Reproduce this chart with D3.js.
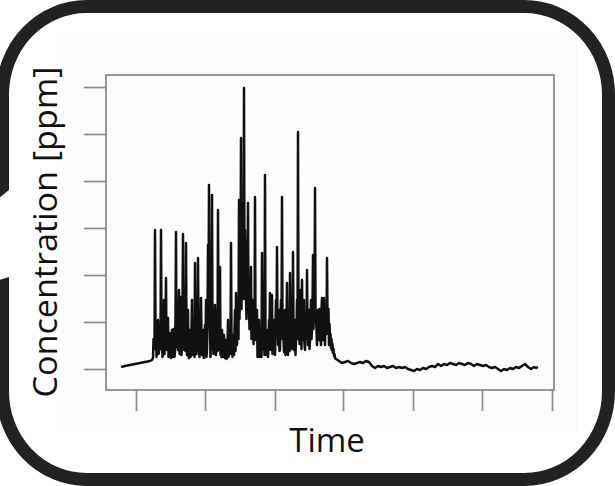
<!DOCTYPE html>
<html><head><meta charset="utf-8">
<script src="https://cdn.jsdelivr.net/npm/d3@7"></script>
<style>html,body{margin:0;padding:0;background:#fff;overflow:hidden}svg{display:block}</style>
</head><body><svg id="c" width="615" height="486"></svg>
<script>
// time (arbitrary units) and concentration (arbitrary ppm units)
const time = [85,89,94,99,104,109,114,116,
117,118,119,120,121,122,123,124,125,126,127,128,129,130,131,132,133,134,135,136,
137,138,139,140,141,142,143,144,145,146,147,148,149,150,151,152,153,154,155,156,
157,158,159,160,161,162,163,164,165,166,167,168,169,170,171,172,173,174,175,176,
177,178,179,180,181,182,183,184,185,186,187,188,189,190,191,192,193,194,195,196,
197,198,199,200,201,202,203,204,205,206,207,208,209,210,211,212,213,214,215,216,
217,218,219,220,221,222,223,224,225,226,227,228,229,230,231,232,233,234,235,236,
237,238,239,240,241,242,243,244,245,246,247,248,249,250,251,252,253,254,255,256,
257,258,259,260,261,262,263,264,265,266,267,268,269,270,271,272,273,274,275,276,
277,278,279,280,281,282,283,284,285,286,287,288,289,290,291,292,293,294,295,296,
297,298,299,
300,303,306,309,312,315,318,321,324,327,330,333,336,339,342,345,348,351,354,357,
360,363,366,369,372,375,378,381,384,387,390,393,396,399,402,405,408,411,414,417,
420,423,426,429,432,435,438,441,444,447,450,453,456,459,462,465,468,471,474,477,
480,483,486,489,492,495,498,500,502];
const conc = [2,3,4,5,6,7,8,9,
11,24,139,39,19,49,17,44,139,29,14,69,24,91,19,51,13,34,11,39,
14,29,17,137,49,19,79,24,72,29,135,19,69,126,14,59,11,39,14,69,
19,49,106,24,59,111,19,49,71,14,39,11,44,69,19,124,184,39,29,174,
24,49,64,14,39,159,19,102,24,39,12,34,11,29,13,49,17,39,126,19,
34,14,59,76,24,69,169,109,231,129,89,281,139,69,109,166,59,79,102,39,
69,49,172,29,59,19,49,14,39,116,19,49,194,24,39,12,49,76,19,74,
29,49,14,69,122,24,59,19,69,172,39,17,59,29,86,14,49,96,24,69,
117,19,49,29,69,237,59,79,39,89,29,69,19,49,99,24,59,29,69,39,
114,69,181,49,24,59,29,49,24,71,29,71,24,49,111,39,24,29,21,19,
16,13,11,
10,8,6,7,8,6,5,6,7,6,8,7,3,1,3,2,3,1,2,3,
1,2,1,2,0,-1,-2,0,-1,1,0,2,3,2,5,3,5,4,6,5,
4,6,5,4,6,5,3,5,4,3,4,2,1,2,0,-2,0,-1,1,0,
2,1,3,5,2,0,2,1,2];
// intermediate readings inside the burst (half-step samples)
const time2 = [117.5,118.5,119.5,120.5,121.5,122.5,123.5,124.5,125.5,126.5,127.5,128.5,129.5,130.5,131.5,132.5,133.5,134.5,135.5,136.5,
137.5,138.5,139.5,140.5,141.5,142.5,143.5,144.5,145.5,146.5,147.5,148.5,149.5,150.5,151.5,152.5,153.5,154.5,155.5,156.5,
157.5,158.5,159.5,160.5,161.5,162.5,163.5,164.5,165.5,166.5,167.5,168.5,169.5,170.5,171.5,172.5,173.5,174.5,175.5,176.5,
177.5,178.5,179.5,180.5,181.5,182.5,183.5,184.5,185.5,186.5,187.5,188.5,189.5,190.5,191.5,192.5,193.5,194.5,195.5,196.5,
197.5,198.5,199.5,200.5,201.5,202.5,203.5,204.5,205.5,206.5,207.5,208.5,209.5,210.5,211.5,212.5,213.5,214.5,215.5,216.5,
217.5,218.5,219.5,220.5,221.5,222.5,223.5,224.5,225.5,226.5,227.5,228.5,229.5,230.5,231.5,232.5,233.5,234.5,235.5,236.5,
237.5,238.5,239.5,240.5,241.5,242.5,243.5,244.5,245.5,246.5,247.5,248.5,249.5,250.5,251.5,252.5,253.5,254.5,255.5,256.5,
257.5,258.5,259.5,260.5,261.5,262.5,263.5,264.5,265.5,266.5,267.5,268.5,269.5,270.5,271.5,272.5,273.5,274.5,275.5,276.5,
277.5,278.5,279.5,280.5,281.5,282.5,283.5,284.5,285.5,286.5,287.5,288.5,289.5,290.5,291.5,292.5,293.5,294.5,295.5,296.5,
297.5,298.5];
const conc2 = [30,20,45,12,35,15,38,20,45,12,40,15,45,22,42,12,36,15,28,12,
40,12,55,22,33,45,15,50,14,60,25,45,18,40,35,14,30,12,40,14,
35,12,40,15,30,40,12,22,30,28,12,25,15,12,45,60,55,12,55,40,
15,30,40,30,18,45,35,14,12,25,20,14,20,10,22,12,25,15,30,12,
30,40,18,40,45,30,50,80,60,120,70,90,110,50,90,60,40,55,30,50,
25,30,40,45,12,35,12,30,12,30,35,14,30,14,30,20,40,30,45,15,
40,20,45,35,45,40,18,50,30,45,30,40,14,40,30,40,18,35,20,40,
40,30,14,40,30,45,25,45,20,40,45,25,40,30,40,50,20,50,30,60,
40,50,60,40,55,40,60,35,60,40,50,40,55,35,50,60,45,35,30,25,
20,15];
const xTicks = [100,169,239,307,377,446,516];
const yTicks = [0,47,94,141,188,235,282];
const xLabel = "Time";
const yLabel = "Concentration [ppm]";

const svg = d3.select("#c");
svg.append("rect").attr("width",615).attr("height",486).attr("fill","#fff");
// light panel behind the chart
svg.append("rect").attr("x",63).attr("y",33).attr("width",515).attr("height",399).attr("fill","#fbfbfb");

const L=106,R=554,T=75,B=390;
const x = d3.scaleLinear().domain([70,518]).range([L,R]);
const y = d3.scaleLinear().domain([-21,294]).range([B,T]);

svg.append("rect").attr("x",L).attr("y",T).attr("width",R-L).attr("height",B-T)
  .attr("fill","#fdfdfd").attr("stroke","#8c8c8c").attr("stroke-width",1.8);

const gy = svg.append("g").attr("transform",`translate(${L},0)`)
  .call(d3.axisLeft(y).tickValues(yTicks).tickFormat("").tickSize(22).tickSizeOuter(0));
const gx = svg.append("g").attr("transform",`translate(0,${B})`)
  .call(d3.axisBottom(x).tickValues(xTicks).tickFormat("").tickSize(21).tickSizeOuter(0));
[gx,gy].forEach(g=>{g.select(".domain").remove();g.selectAll(".tick line").attr("stroke","#8c8c8c").attr("stroke-width",1.7);});

const pts = time.map((t,i)=>[t,conc[i]]).concat(time2.map((t,i)=>[t,conc2[i]]))
  .sort((a,b)=>a[0]-b[0]);
svg.append("path").datum(pts)
  .attr("d",d3.line().x(d=>x(d[0])).y(d=>y(d[1])))
  .attr("fill","none").attr("stroke","#111").attr("stroke-width",2.5).attr("stroke-linejoin","round");

svg.append("text").attr("transform","translate(57,232) rotate(-90)")
  .attr("text-anchor","middle").attr("font-family","Open Sans").attr("font-size",33)
  .attr("fill","#111").attr("textLength",331).attr("lengthAdjust","spacingAndGlyphs").text(yLabel);
svg.append("text").attr("x",327).attr("y",452)
  .attr("text-anchor","middle").attr("font-family","Open Sans").attr("font-size",33)
  .attr("fill","#111").text(xLabel);

// outer rounded frame (drawn on top)
svg.append("rect").attr("x",2.5).attr("y",6.5).attr("width",606).attr("height",473)
  .attr("rx",84).attr("ry",88).attr("fill","none").attr("stroke","#222").attr("stroke-width",13);
// gap in the left edge of the frame
svg.append("path").attr("d","M-1,198L9,190L16,190L16,285L9,277L-1,280Z").attr("fill","#fff");
</script></body></html>
